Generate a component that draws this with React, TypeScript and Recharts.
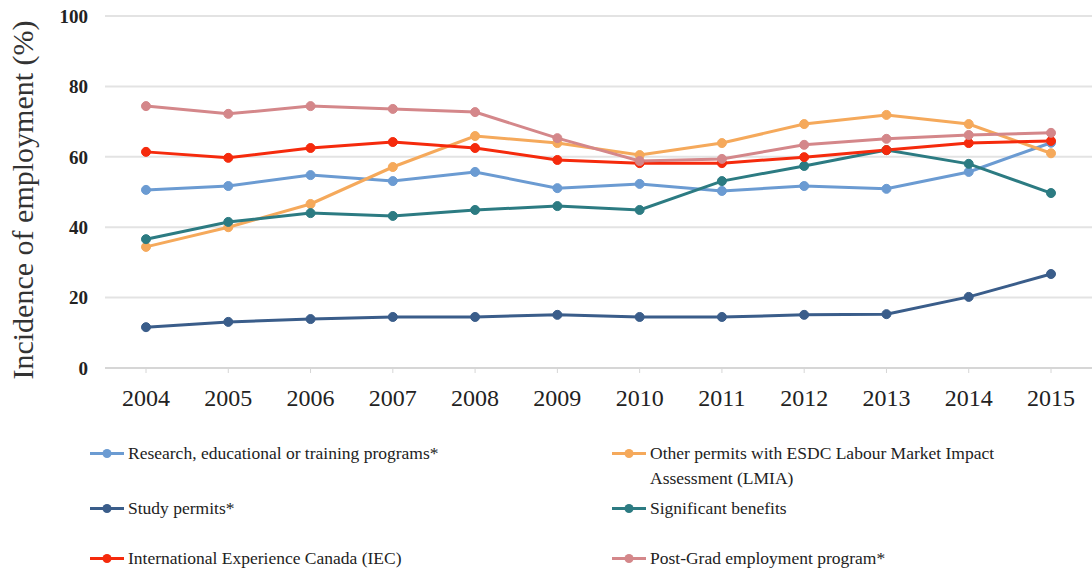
import React from 'react';
import { LineChart, Line, XAxis, YAxis, CartesianGrid, Label } from 'recharts';

const years = ['2004', '2005', '2006', '2007', '2008', '2009', '2010', '2011', '2012', '2013', '2014', '2015'];

const research = [50.6, 51.7, 54.8, 53.1, 55.7, 51.1, 52.3, 50.3, 51.7, 50.9, 55.7, 64.0];
const lmia = [34.4, 40.0, 46.6, 57.1, 65.9, 63.9, 60.5, 63.9, 69.3, 71.9, 69.3, 61.0];
const study = [11.6, 13.1, 13.9, 14.5, 14.5, 15.1, 14.5, 14.5, 15.1, 15.3, 20.2, 26.7];
const benefits = [36.6, 41.5, 44.0, 43.2, 44.9, 46.0, 44.9, 53.1, 57.4, 61.9, 58.0, 49.7];
const iec = [61.4, 59.7, 62.5, 64.2, 62.5, 59.1, 58.2, 58.2, 59.9, 61.9, 63.9, 64.5];
const postGrad = [74.4, 72.2, 74.4, 73.6, 72.7, 65.3, 58.8, 59.4, 63.4, 65.1, 66.2, 66.8];

const yTicks = [0, 20, 40, 60, 80, 100];

// legend order: left column / right column, row by row
const series = [
  { key: 'research', name: 'Research, educational or training programs*', color: '#6b9bd2', values: research },
  { key: 'lmia', name: 'Other permits with ESDC Labour Market Impact Assessment (LMIA)', color: '#f5a95b', values: lmia },
  { key: 'study', name: 'Study permits*', color: '#3a5d8a', values: study },
  { key: 'benefits', name: 'Significant benefits', color: '#2c7b82', values: benefits },
  { key: 'iec', name: 'International Experience Canada (IEC)', color: '#f52a0c', values: iec },
  { key: 'postGrad', name: 'Post-Grad employment program*', color: '#d4878a', values: postGrad },
];

const data = years.map((year, i) => {
  const row: Record<string, string | number> = { year };
  series.forEach((s) => {
    row[s.key] = s.values[i];
  });
  return row;
});

const font = '"Liberation Serif", "DejaVu Serif", serif';

const LegendBlock = () => (
  <div
    style={{
      position: 'absolute',
      left: 88,
      top: 441,
      width: 1000,
      display: 'grid',
      gridTemplateColumns: '522px 440px',
      gridTemplateRows: '55px 50px 30px',
      fontFamily: font,
      fontSize: 17.5,
      color: '#222',
      lineHeight: '25px',
    }}
  >
    {series.map((s) => (
      <div key={s.key} style={{ display: 'flex', alignItems: 'flex-start' }}>
        <svg width={40} height={25} style={{ flex: 'none' }}>
          <line x1={2} y1={12.5} x2={36} y2={12.5} stroke={s.color} strokeWidth={3} />
          <circle cx={19} cy={12.5} r={4.5} fill={s.color} />
        </svg>
        <span>{s.name}</span>
      </div>
    ))}
  </div>
);

const YLabel = (props: any) => {
  const vb = props.viewBox || { y: 16, height: 352 };
  const cy = vb.y + vb.height / 2 + 8;
  return (
    <text
      x={22}
      y={cy}
      transform={`rotate(-90, 22, ${cy})`}
      textAnchor="middle"
      dominantBaseline="central"
      style={{ fontFamily: font, fontSize: 30, fill: '#333' }}
    >
      Incidence of employment (%)
    </text>
  );
};

export default function App() {
  return (
    <div style={{ position: 'absolute', left: 0, top: 0, width: 1092, height: 575, background: '#fff' }}>
      <LineChart width={1092} height={575} data={data} margin={{ top: 16, right: 0, left: 0, bottom: 157 }}>
        <CartesianGrid horizontal vertical={false} stroke="#e3e3e3" strokeWidth={2} />
        <XAxis
          dataKey="year"
          padding={{ left: 41, right: 41 }}
          height={50}
          axisLine={{ stroke: '#d6d6d6', strokeWidth: 2 }}
          tickLine={{ stroke: '#d6d6d6' }}
          tickSize={5}
          tickMargin={16}
          tick={{ fontFamily: font, fontSize: 24, fill: '#222' }}
          interval={0}
        />
        <YAxis
          width={105}
          domain={[0, 100]}
          ticks={yTicks}
          axisLine={false}
          tickLine={false}
          tickMargin={11}
          tick={{ fontFamily: font, fontSize: 19, fontWeight: 'bold', fill: '#222' }}
        >
          <Label content={<YLabel />} />
        </YAxis>
        {series.map((s) => (
          <Line
            key={s.key}
            dataKey={s.key}
            name={s.name}
            stroke={s.color}
            strokeWidth={3}
            dot={{ r: 4.5, fill: s.color, stroke: s.color, strokeWidth: 1 }}
            activeDot={false}
            isAnimationActive={false}
          />
        ))}
      </LineChart>
      <LegendBlock />
    </div>
  );
}
